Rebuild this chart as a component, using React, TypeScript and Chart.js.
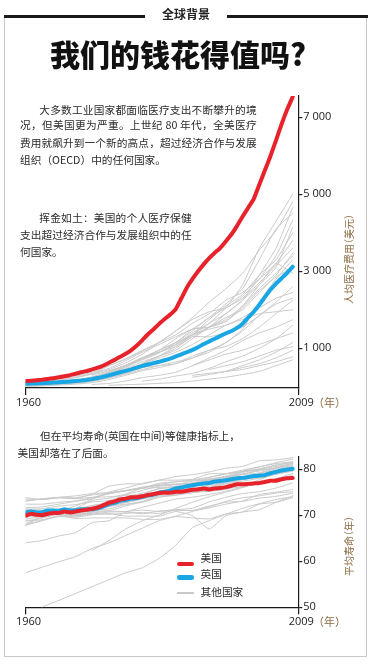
import React, { useEffect, useRef } from "react";
import { Chart, registerables } from "chart.js";

Chart.register(...registerables);

// ---------- DATA ----------
const YEARS = [
  1960, 1961, 1962, 1963, 1964, 1965, 1966, 1967, 1968, 1969,
  1970, 1971, 1972, 1973, 1974, 1975, 1976, 1977, 1978, 1979,
  1980, 1981, 1982, 1983, 1984, 1985, 1986, 1987, 1988, 1989,
  1990, 1991, 1992, 1993, 1994, 1995, 1996, 1997, 1998, 1999,
  2000, 2001, 2002, 2003, 2004, 2005, 2006, 2007, 2008,
];
const G_YEARS = [1960, 1963, 1966, 1969, 1972, 1975, 1978, 1981, 1984, 1987, 1990, 1993, 1996, 1999, 2002, 2005, 2008];
const X_TICKS = [1960, 2009];

// health spending per person (US$)
const US_SPEND = [
  150, 160, 172, 186, 205, 225, 248, 275, 305, 340,
  378, 412, 452, 498, 555, 625, 700, 780, 860, 955,
  1075, 1215, 1365, 1495, 1635, 1760, 1880, 2020, 2300, 2580,
  2800, 3000, 3180, 3340, 3480, 3610, 3780, 3960, 4180, 4420,
  4650, 4880, 5250, 5620, 5990, 6400, 6820, 7200, 7530,
];
const UK_SPEND = [
  80, 84, 88, 94, 101, 110, 119, 128, 138, 150,
  163, 180, 200, 228, 262, 300, 340, 378, 415, 455,
  500, 545, 580, 615, 650, 690, 735, 790, 845, 900,
  960, 1030, 1110, 1180, 1250, 1320, 1390, 1450, 1530, 1640,
  1800, 1950, 2130, 2330, 2520, 2680, 2820, 2960, 3120,
];
const OTHER_SPEND: (number | null)[][] = [
  [50, 60, 80, 110, 160, 250, 400, 600, 800, 1050, 1350, 1650, 2050, 2650, 3600, 4300, 5000],
  [140, 170, 210, 270, 380, 550, 720, 930, 1150, 1450, 1800, 2200, 2550, 2950, 3550, 4050, 4800],
  [70, 90, 120, 170, 260, 380, 560, 750, 900, 1100, 1400, 1650, 1900, 2250, 2900, 3600, 4660],
  [null, null, null, null, null, 330, 520, 700, 880, 1150, 1500, 1800, 2150, 2550, 3300, 4100, 4500],
  [120, 140, 180, 240, 330, 450, 620, 850, 1150, 1450, 1750, 1950, 2050, 2350, 2800, 3400, 4330],
  [null, null, null, null, 300, 420, 560, 760, 900, 1050, 1300, 1550, 1900, 2250, 2650, 3100, 4150],
  [70, 90, 120, 170, 250, 380, 550, 720, 900, 1100, 1350, 1750, 2100, 2400, 2900, 3300, 4000],
  [null, null, null, null, 320, 550, 730, 950, 1150, 1350, 1650, 1900, 2250, 2450, 2800, 3200, 3800],
  [70, 95, 130, 180, 250, 370, 520, 750, 950, 1150, 1450, 1800, 2050, 2300, 2700, 3150, 3600],
  [50, 70, 100, 140, 200, 320, 470, 650, 800, 950, 1250, 1550, 1800, 2000, 2450, 2900, 3470],
  [35, 45, 60, 90, 140, 230, 350, 500, 550, 600, 750, 950, 1150, 1500, 2200, 2800, 3300],
  [90, 120, 170, 240, 350, 480, 680, 900, 1100, 1300, 1500, 1550, 1700, 2050, 2500, 2850, 3100],
  [50, 65, 90, 130, 200, 320, 500, 750, 950, 1250, 1500, 1550, 1700, 2100, 2650, 3200, 2950],
  [55, 70, 100, 140, 200, 300, 430, 600, 800, 1000, 1300, 1300, 1400, 1550, 1850, 2200, 2600],
  [null, null, null, null, null, null, null, null, null, 1100, 1350, 1500, 1600, 1800, 2050, 2300, 2450],
  [15, 25, 45, 70, 110, 190, 300, 420, 500, 600, 800, 950, 1050, 1250, 1550, 1900, 2250],
  [25, 40, 65, 100, 170, 270, 420, 580, 750, 900, 1100, 1350, 1600, 1750, 1900, 1950, 2000],
  [null, null, null, null, 60, 90, 150, 240, 300, 380, 550, 750, 950, 1200, 1400, 1550, 1740],
  [null, null, null, null, null, null, null, null, null, null, 550, 700, 850, 950, 1100, 1250, 1400],
  [null, null, null, null, null, null, null, null, null, null, null, 450, 550, 650, 800, 950, 1040],
  [null, null, null, null, null, null, null, null, null, null, 300, 350, 400, 450, 550, 650, 780],
  [null, null, null, null, null, 40, 55, 70, 90, 110, 150, 200, 250, 320, 400, 550, 700],
  [null, null, null, null, null, null, null, 150, 200, 280, 350, 480, 650, 800, 1000, 1250, 1600],
  [40, 60, 80, 110, 160, 230, 330, 450, 550, 650, 750, 900, 1150, 1450, 1850, 2150, 2300],
  [null, null, null, null, null, null, null, null, null, null, null, null, 400, 550, 700, 900, 1150],
  [null, null, null, null, null, null, null, null, null, null, 250, 320, 400, 500, 600, 750, 950],
  [90, 110, 140, 180, 250, 400, 560, 750, 950, 1150, 1350, 1550, 1750, 2100, 2550, 2950, 3400],
];
const SPEND_TICKS = [1000, 3000, 5000, 7000];

// life expectancy (years)
const US_LIFE = [
  69.9, 70.3, 70.1, 70.0, 70.3, 70.5, 70.5, 70.8, 70.6, 70.8,
  71.0, 71.2, 71.4, 71.7, 72.2, 72.7, 73.0, 73.4, 73.6, 73.9,
  73.9, 74.1, 74.4, 74.6, 74.8, 74.9, 74.9, 75.1, 75.1, 75.3,
  75.5, 75.6, 75.8, 75.6, 75.8, 75.9, 76.1, 76.4, 76.7, 76.7,
  76.8, 76.9, 77.0, 77.2, 77.5, 77.5, 77.8, 78.0, 78.1,
];
const UK_LIFE = [
  70.6, 70.8, 70.6, 70.6, 71.0, 71.0, 70.9, 71.3, 71.0, 71.1,
  71.3, 71.3, 71.3, 71.5, 71.9, 72.4, 72.7, 73.1, 73.3, 73.6,
  73.7, 74.0, 74.3, 74.5, 74.9, 75.1, 75.4, 75.8, 76.0, 76.3,
  76.5, 76.7, 76.9, 77.0, 77.3, 77.4, 77.6, 77.8, 78.0, 78.1,
  78.3, 78.5, 78.6, 78.7, 79.1, 79.4, 79.7, 79.9, 80.1,
];
const OTHER_LIFE: (number | null)[][] = [
  [67.7, 70.0, 71.0, 72.0, 73.5, 75.0, 75.9, 76.9, 77.6, 78.4, 78.8, 79.4, 80.2, 80.6, 81.8, 82.0, 82.5],
  [73.1, 73.5, 73.9, 74.2, 74.7, 74.9, 75.3, 75.9, 76.7, 77.2, 77.7, 78.2, 79.0, 79.4, 79.9, 80.6, 81.2],
  [73.8, 73.4, 73.8, 73.8, 74.4, 74.8, 75.3, 75.8, 76.0, 76.2, 76.7, 77.4, 78.1, 78.3, 79.0, 80.1, 80.7],
  [73.5, 73.4, 73.8, 73.6, 73.9, 74.6, 75.3, 76.1, 76.4, 76.7, 77.0, 77.1, 77.5, 77.9, 78.4, 79.4, 80.3],
  [73.0, 73.6, 73.8, 73.6, 74.6, 76.3, 76.8, 76.8, 77.6, 77.6, 77.8, 79.0, 79.0, 79.6, 80.5, 81.2, 81.6],
  [71.6, 71.8, 72.4, 73.0, 73.6, 74.8, 75.4, 76.0, 76.9, 77.3, 77.5, 78.2, 79.0, 79.8, 80.5, 81.4, 82.2],
  [72.4, 72.4, 72.8, 73.1, 73.8, 74.0, 74.3, 74.4, 74.7, 75.0, 75.0, 75.2, 75.6, 76.7, 77.1, 77.9, 78.7],
  [70.3, 70.5, 71.3, 71.4, 72.1, 72.6, 73.4, 74.3, 75.0, 75.9, 76.9, 77.4, 78.1, 78.8, 79.2, 80.3, 81.0],
  [69.1, 69.8, 71.1, 71.1, 72.1, 72.7, 73.6, 74.5, 75.8, 76.0, 76.9, 77.6, 78.5, 79.5, 80.1, 80.8, 81.6],
  [69.8, 70.2, 71.1, 71.5, 73.2, 73.7, 74.6, 75.9, 76.5, 76.8, 76.9, 77.7, 78.2, 78.9, 79.8, 80.3, 81.3],
  [71.3, 71.4, 72.0, 72.3, 72.9, 73.2, 74.4, 75.4, 76.3, 76.6, 77.4, 77.8, 78.4, 79.0, 79.6, 80.2, 80.7],
  [70.9, 70.9, 71.0, 71.3, 71.7, 72.8, 73.9, 74.8, 75.7, 76.3, 77.0, 77.9, 78.2, 79.3, 80.0, 80.9, 81.4],
  [71.3, 71.1, 71.4, 71.3, 71.8, 72.1, 72.7, 73.5, 74.2, 74.4, 75.4, 76.6, 77.2, 78.3, 78.9, 79.8, 80.4],
  [69.6, 70.0, 70.3, 70.2, 71.0, 71.4, 72.3, 73.0, 74.3, 75.0, 75.3, 75.9, 76.9, 77.7, 78.3, 79.0, 79.9],
  [68.7, 69.4, 70.2, 70.0, 70.8, 71.0, 72.0, 72.9, 73.9, 74.5, 75.4, 76.1, 77.0, 77.9, 78.6, 79.4, 80.2],
  [70.3, 70.3, 70.9, 70.8, 71.4, 72.1, 72.8, 73.6, 74.5, 75.2, 75.9, 76.3, 77.2, 77.9, 78.1, 78.9, 79.6],
  [68.8, 69.0, 69.7, 69.6, 70.7, 71.9, 72.9, 73.9, 74.4, 74.6, 74.9, 75.8, 76.8, 77.4, 78.0, 78.9, 79.6],
  [69.9, 70.2, 70.8, 70.7, 71.3, 71.9, 72.4, 72.8, 73.9, 74.3, 74.9, 75.3, 75.8, 76.2, 77.7, 79.0, 79.8],
  [68.2, 69.5, 70.5, 70.4, 71.7, 72.7, 73.6, 74.3, 74.9, 75.9, 76.8, 77.2, 77.6, 77.8, 78.6, 79.2, 79.8],
  [70.6, 70.5, 70.2, 69.6, 70.1, 70.7, 70.7, 70.3, 70.9, 71.2, 71.5, 72.9, 73.9, 74.7, 75.1, 75.9, 77.0],
  [68.0, 68.9, 69.9, 69.3, 69.4, 69.4, 69.4, 69.1, 69.1, 69.7, 69.4, 69.2, 70.3, 70.7, 72.4, 72.8, 73.8],
  [67.8, 68.8, 69.8, 69.9, 70.5, 70.9, 70.8, 71.1, 70.8, 71.1, 71.0, 71.6, 72.4, 73.1, 74.5, 75.0, 75.6],
  [70.6, 71.0, 71.0, 70.0, 70.2, 70.2, 70.4, 70.6, 70.4, 71.1, 71.0, 72.0, 72.8, 73.0, 73.7, 74.1, 74.8],
  [69.6, 70.0, 70.8, 70.2, 70.4, 70.4, 69.8, 69.8, 69.8, 70.8, 69.9, 67.0, 69.9, 70.7, 71.2, 72.8, 74.2],
  [64.0, 64.5, 65.5, 66.2, 68.4, 68.8, 70.7, 71.7, 72.6, 73.5, 73.9, 74.5, 75.2, 76.1, 77.0, 77.9, 79.1],
  [57.5, 58.7, 59.9, 61.0, 62.8, 64.0, 65.6, 67.2, 68.8, 69.8, 70.8, 71.8, 73.0, 73.8, 74.2, 74.8, 75.1],
  [47.0, 50.0, 51.5, 53.0, 54.5, 56.0, 57.5, 58.6, 60.6, 63.5, 67.3, 68.8, 70.2, 71.5, 72.5, 73.4, 74.0],
  [null, null, null, null, 62.4, 64.5, 67.0, 68.8, 70.0, 71.5, 72.8, 74.0, 75.0, 76.0, 77.0, 77.7, 78.4],
];
const LIFE_TICKS = [50, 60, 70, 80];

// ---------- STYLE ----------
const RED = "#e8222b";
const BLUE = "#19a6e5";
const GRAY = "#c9c9c9";
const AXIS = "#1a1a1a";
const BROWN = "#8c6b42";
const TICK_FONT = { family: "'Open Sans', 'DejaVu Sans', sans-serif", size: 11 };

const pts = (xs: number[], ys: (number | null)[]) =>
  xs.map((x, i) => ({ x, y: ys[i] })).filter((p) => p.y !== null && p.y !== undefined);

const fmtSpend = (v: number) => {
  const s = String(v);
  return s.length > 3 ? s.slice(0, -3) + " " + s.slice(-3) : s;
};

function build(
  canvas: HTMLCanvasElement,
  o: {
    us: number[]; uk: number[]; others: (number | null)[][];
    min: number; max: number; ticks: number[]; fmt: (v: number) => string;
    padTop: number; xH: number; yW: number;
  }
) {
  const datasets: any[] = [
    { label: "美国", data: pts(YEARS, o.us), borderColor: RED, borderWidth: 4, order: 0 },
    { label: "英国", data: pts(YEARS, o.uk), borderColor: BLUE, borderWidth: 4, order: 1 },
    ...o.others.map((arr) => ({ label: "其他国家", data: pts(G_YEARS, arr), borderColor: GRAY, borderWidth: 1, order: 2 })),
  ].map((d) => ({ ...d, pointRadius: 0, fill: false, tension: 0.15, borderCapStyle: "round", borderJoinStyle: "round" }));

  return new Chart(canvas, {
    type: "line",
    data: { datasets },
    options: {
      responsive: false,
      animation: false,
      events: [],
      layout: { padding: { left: 25.5, top: o.padTop, right: 0, bottom: 0 } },
      plugins: { legend: { display: false }, tooltip: { enabled: false } },
      scales: {
        x: {
          type: "linear",
          min: 1960,
          max: 2009,
          afterBuildTicks: (s: any) => { s.ticks = X_TICKS.map((v) => ({ value: v })); },
          afterFit: (s: any) => { s.height = o.xH; },
          grid: { display: true, drawOnChartArea: false, drawTicks: true, tickLength: 7, color: AXIS, lineWidth: 1.2 },
          border: { display: true, color: AXIS, width: 1.2 },
          ticks: { font: TICK_FONT, color: "#222", padding: 1, maxRotation: 0, autoSkip: false, labelOffset: 3, callback: (v: any) => String(v) },
        },
        y: {
          type: "linear",
          position: "right",
          min: o.min,
          max: o.max,
          afterBuildTicks: (s: any) => { s.ticks = o.ticks.map((v) => ({ value: v })); },
          afterFit: (s: any) => { s.width = o.yW; },
          grid: { display: true, drawOnChartArea: false, drawTicks: true, tickLength: 4, color: AXIS, lineWidth: 1.2 },
          border: { display: true, color: AXIS, width: 1.2 },
          ticks: { font: TICK_FONT, color: "#222", padding: 1, callback: (v: any) => o.fmt(Number(v)) },
        },
      },
    } as any,
  });
}

const CJK = "'Noto Sans CJK SC', 'Noto Sans', sans-serif";

function TextLine(p: { x: number; cy: number; w?: number; text: string; size?: number; color?: string }) {
  const size = p.size ?? 10.7;
  const style: React.CSSProperties = {
    position: "absolute",
    left: p.x,
    top: p.cy - 7.6,
    height: 14,
    lineHeight: "14px",
    fontSize: size,
    color: p.color ?? "#2a2a2a",
    whiteSpace: "nowrap",
  };
  if (p.w) {
    style.width = p.w;
    style.textAlign = "justify";
    (style as any).textAlignLast = "justify";
  }
  return <div style={style}>{p.text}</div>;
}

function VTitle(p: { cx: number; cy: number; text: string }) {
  const w = 120;
  return (
    <div
      style={{
        position: "absolute",
        left: p.cx - w / 2,
        top: p.cy - 7,
        width: w,
        height: 14,
        lineHeight: "14px",
        fontSize: 10,
        textAlign: "center",
        color: BROWN,
        whiteSpace: "nowrap",
        fontFeatureSettings: '"halt"',
        transform: "rotate(-90deg)",
      }}
    >
      {p.text}
    </div>
  );
}

function LegendRow(p: { cy: number; lineY: number; color: string; thick: number; text: string }) {
  return (
    <>
      <div
        style={{
          position: "absolute",
          left: 176.5,
          top: p.lineY - p.thick / 2,
          width: 17,
          height: p.thick,
          borderRadius: p.thick / 2,
          background: p.color,
        }}
      />
      <TextLine x={200.5} cy={p.cy} text={p.text} />
    </>
  );
}

export default function App() {
  const topRef = useRef<HTMLCanvasElement>(null);
  const botRef = useRef<HTMLCanvasElement>(null);

  useEffect(() => {
    const c1 = build(topRef.current!, {
      us: US_SPEND, uk: UK_SPEND, others: OTHER_SPEND,
      min: -30, max: 7550, ticks: SPEND_TICKS, fmt: fmtSpend,
      padTop: 11, xH: 27, yW: 46.7,
    });
    const c2 = build(botRef.current!, {
      us: US_LIFE, uk: UK_LIFE, others: OTHER_LIFE,
      min: 50, max: 82.7, ticks: LIFE_TICKS, fmt: (v) => String(v),
      padTop: 11.7, xH: 27.7, yW: 46.7,
    });
    return () => {
      c1.destroy();
      c2.destroy();
    };
  }, []);

  return (
    <div
      style={{
        position: "fixed",
        left: 0,
        top: 0,
        width: 375,
        height: 664,
        background: "#fff",
        overflow: "hidden",
        fontFamily: CJK,
      }}
    >
      <canvas ref={topRef} width={345} height={330} style={{ position: "absolute", left: 0, top: 85 }} />
      <canvas ref={botRef} width={345} height={190} style={{ position: "absolute", left: 0, top: 445 }} />

      {/* frame */}
      <div
        style={{
          position: "absolute",
          left: 4,
          top: 17,
          width: 363,
          height: 640,
          border: "1.5px solid #c8c8c8",
          borderTop: "none",
          boxSizing: "border-box",
        }}
      />
      <div style={{ position: "absolute", left: 4, top: 15, width: 141, height: 3, background: AXIS }} />
      <div style={{ position: "absolute", left: 227, top: 15, width: 141, height: 3, background: AXIS }} />
      <div
        style={{
          position: "absolute",
          left: 145,
          width: 82,
          top: 5,
          height: 18,
          lineHeight: "18px",
          textAlign: "center",
          fontSize: 12,
          fontWeight: 700,
          color: "#222",
        }}
      >
        全球背景
      </div>

      {/* title */}
      <div
        style={{
          position: "absolute",
          left: 50,
          top: 37.5,
          fontSize: 30,
          lineHeight: "30px",
          fontWeight: 900,
          color: "#111",
          whiteSpace: "nowrap",
        }}
      >
        我们的钱花得值吗?
      </div>

      {/* paragraph 1 */}
      <TextLine x={39.3} cy={110.5} w={217.4} text="大多数工业国家都面临医疗支出不断攀升的境" />
      <TextLine x={20} cy={126} w={236.7} text="况，但美国更为严重。上世纪 80 年代，全美医疗" />
      <TextLine x={20} cy={143.8} w={236.7} text="费用就飙升到一个新的高点，超过经济合作与发展" />
      <TextLine x={20} cy={161} text="组织（OECD）中的任何国家。" />

      {/* paragraph 2 */}
      <TextLine x={39.3} cy={218.3} w={152.4} text="挥金如土：美国的个人医疗保健" />
      <TextLine x={20} cy={235.3} w={171.7} text="支出超过经济合作与发展组织中的任" />
      <TextLine x={20} cy={252.5} text="何国家。" />

      {/* paragraph 3 */}
      <TextLine x={40} cy={436.7} w={200} text="但在平均寿命(英国在中间)等健康指标上，" />
      <TextLine x={17.5} cy={453.8} text="美国却落在了后面。" />

      {/* axis units */}
      <TextLine x={313} cy={402.5} text="（年）" size={11} color={BROWN} />
      <TextLine x={313} cy={621.7} text="（年）" size={11} color={BROWN} />
      <VTitle cx={348.5} cy={259} text="人均医疗费用（美元）" />
      <VTitle cx={348.5} cy={546} text="平均寿命（年）" />

      {/* legend */}
      <LegendRow cy={558.3} lineY={564} color={RED} thick={4.5} text="美国" />
      <LegendRow cy={574.5} lineY={577.3} color={BLUE} thick={4.5} text="英国" />
      <LegendRow cy={592.2} lineY={593} color={GRAY} thick={1.2} text="其他国家" />
    </div>
  );
}
